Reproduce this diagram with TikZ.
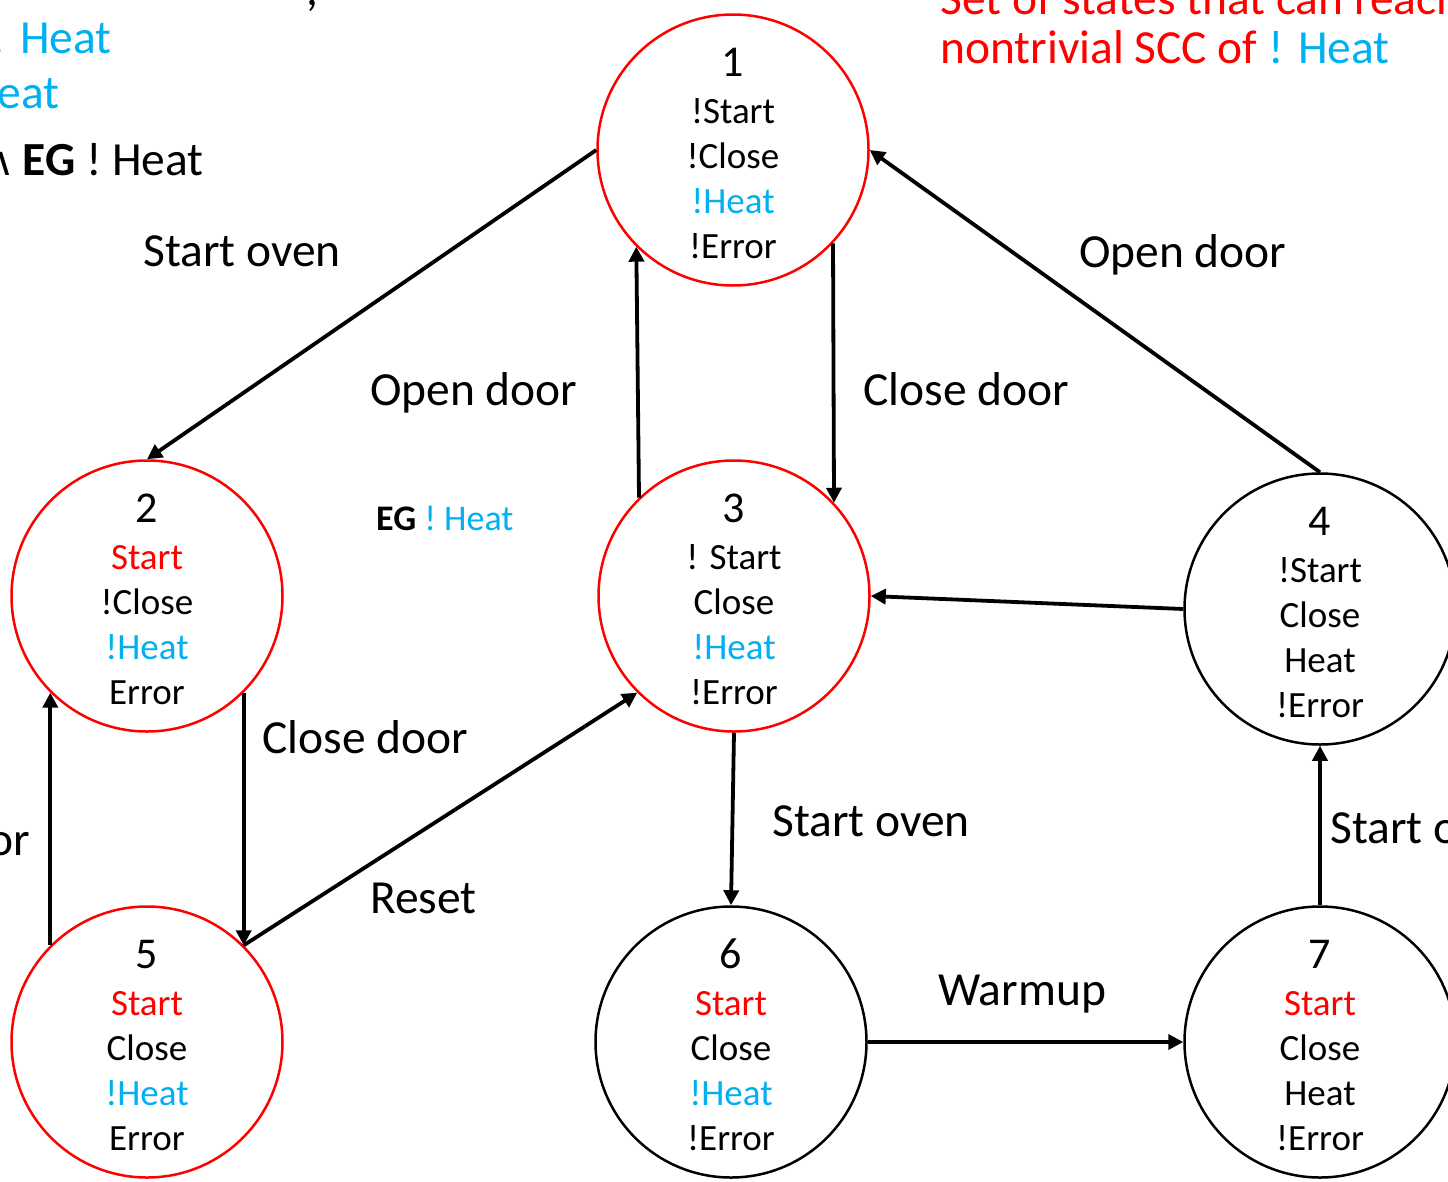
\documentclass[tikz,border=0pt]{standalone}
\usepackage{fontspec}
\setmainfont{Carlito}
\newfontfamily\symfont{DejaVu Sans}
\usetikzlibrary{arrows.meta}
\definecolor{sccred}{HTML}{FF0000}
\definecolor{heat}{HTML}{00B0F0}
\tikzset{
 state/.style={circle, draw, line width=2.5pt, minimum size=271pt, inner sep=0pt},
 redstate/.style={state, draw=sccred},
 blackstate/.style={state, draw=black},
 statetext/.style={align=center, inner sep=0pt, font=\fontsize{37}{45}\selectfont},
 edge/.style={line width=3.8pt, -{Triangle[length=15pt,width=15pt]}},
 lbl/.style={anchor=base west, inner sep=0pt, font=\fontsize{47.5}{56}\selectfont},
 lble/.style={lbl, anchor=base east},
}
\newcommand{\statenum}[1]{{\fontsize{44}{45}\selectfont #1}\\[2pt]}
\newcommand{\hc}[1]{\textcolor{heat}{#1}}
\newcommand{\rc}[1]{\textcolor{sccred}{#1}}
\begin{document}
\begin{tikzpicture}[x=1pt,y=-1pt]
\useasboundingbox (0,0) rectangle (1448,1181);
\clip (0,0) rectangle (1448,1181);
% states
\node[redstate] (n1) at (733,150) {};
\node[redstate] (n2) at (147,596) {};
\node[redstate] (n3) at (734,596) {};
\node[blackstate] (n4) at (1320,609) {};
\node[redstate] (n5) at (147,1042) {};
\node[blackstate] (n6) at (731,1042) {};
\node[blackstate] (n7) at (1320,1042) {};
\node[statetext] (t1) at ([yshift=-3pt]n1.center) {\statenum{1}!Start\\!Close\\\hc{!Heat}\\!Error};
\node[statetext] (t2) at ([yshift=-3pt]n2.center) {\statenum{2}\rc{Start}\\!Close\\\hc{!Heat}\\Error};
\node[statetext] (t3) at ([yshift=-3pt]n3.center) {\statenum{3}! Start\\Close\\\hc{!Heat}\\!Error};
\node[statetext] (t4) at ([yshift=-3pt]n4.center) {\statenum{4}!Start\\Close\\Heat\\!Error};
\node[statetext] (t5) at ([yshift=-3pt]n5.center) {\statenum{5}\rc{Start}\\Close\\\hc{!Heat}\\Error};
\node[statetext] (t6) at ([yshift=-3pt]n6.center) {\statenum{6}\rc{Start}\\Close\\\hc{!Heat}\\!Error};
\node[statetext] (t7) at ([yshift=-3pt]n7.center) {\statenum{7}\rc{Start}\\Close\\Heat\\!Error};
% edges
\draw[edge] (n1.west) -- (n2.north);
\draw[edge] (n3.134.5) -- (n1.225.5);
\draw[edge] (n1.-43) -- (n3.43);
\draw[edge] (n4.north) -- (n1.east);
\draw[edge] (n4.west) -- (n3.east);
\draw[edge] (n2.-45) -- (n5.45);
\draw[edge] (n5.135) -- (n2.225);
\draw[edge] (n5.45) -- (n3.225);
\draw[edge] (n3.south) -- (n6.north);
\draw[edge] (n6.east) -- (n7.west);
\draw[edge] (n7.north) -- (n4.south);
% edge labels
\node[lbl] (l1) at (143,266) {Start oven};
\node[lbl] (l2) at (370,405) {Open door};
\node[lbl] (l3) at (863,405) {Close door};
\node[lbl] (l4) at (1079,267) {Open door};
\node[lbl] (l5) at (262,753) {Close door};
\node[lbl] (l6) at (370,913) {Reset};
\node[lbl] (l7) at (772,836) {Start oven};
\node[lbl] (l8) at (938,1005) {Warmup};
\node[lbl] (l9) at (1330,843) {Start oven};
\node[lble] (l10) at (30,855) {Error};
\node[lbl, font=\fontsize{36}{40}\selectfont] (eg) at (376,530) {\textbf{EG} \hc{! Heat}};
% top texts
\node[lbl] (c1) at (306,5) {,};
\node[lble] (tl1) at (112,53) {\hc{! Heat}};
\node[lble] (tl2) at (60,108) {\hc{Heat}};
\node[lble] (tl3) at (204,175) {{\symfont\fontsize{40}{45}\selectfont ∧}\,\textbf{EG} ! Heat};
\node[lbl, text=sccred] (tr1) at (940,14) {Set of states that can reach};
\node[lbl, text=sccred] (tr2) at (940,63) {nontrivial SCC of \hc{! Heat}};
\end{tikzpicture}
\end{document}
